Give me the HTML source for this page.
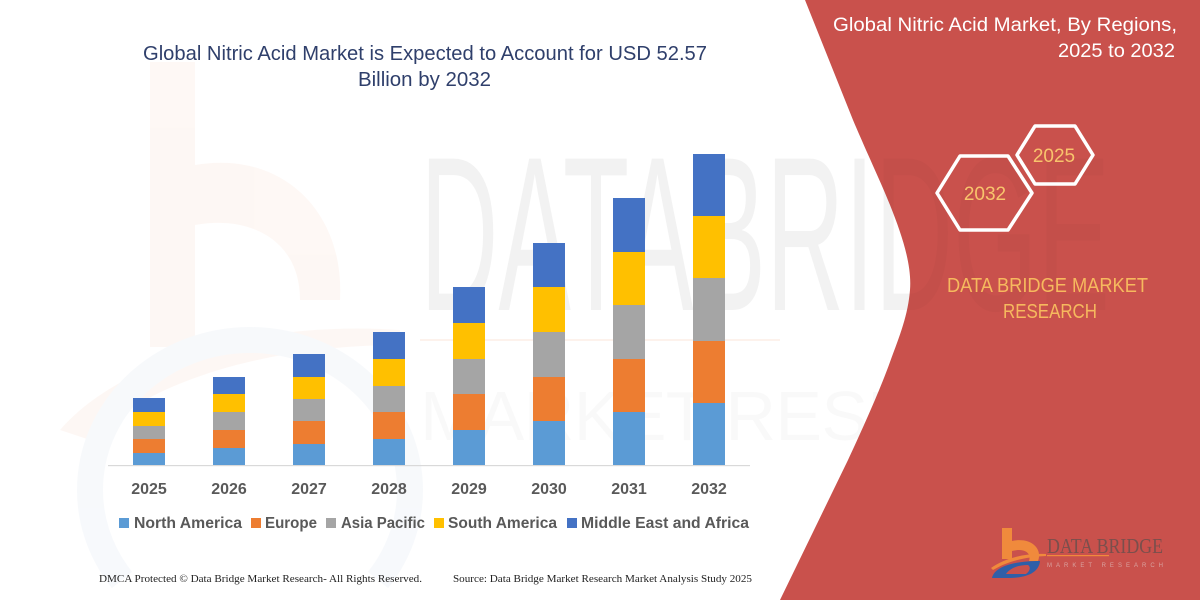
<!DOCTYPE html>
<html><head><meta charset="utf-8"><style>
html,body{margin:0;padding:0;background:#fff;width:1200px;height:600px;overflow:hidden;}
svg{display:block;}
</style></head><body>
<svg width="1200" height="600" viewBox="0 0 1200 600" xmlns="http://www.w3.org/2000/svg">
<rect width="1200" height="600" fill="#ffffff"/>
<!-- faint watermark b on left -->
<g opacity="0.35">
<rect x="150" y="62" width="45" height="285" fill="#fcebe2"/>
<path d="M195,165 C280,150 345,210 340,300 L300,300 C300,240 250,215 195,225 Z" fill="#fcebe2"/>
<path d="M60,430 C120,360 260,320 400,330 L400,345 C270,345 150,380 90,440 Z" fill="#fcebe2"/>
<path d="M122,580 A160,150 0 1 1 378,580" fill="none" stroke="#e9eef5" stroke-width="26"/>
</g>
<!-- faint DATA BRIDGE watermark -->
<text x="420" y="310" font-family="Liberation Sans, sans-serif" font-size="220" textLength="690" lengthAdjust="spacingAndGlyphs" fill="#000" opacity="0.022">DATABRIDGE</text>
<rect x="420" y="339" width="360" height="2" fill="#fbe9df" opacity="0.6"/>
<text x="420" y="440" font-family="Liberation Sans, sans-serif" font-size="70" textLength="690" lengthAdjust="spacing" fill="#000" opacity="0.02">MARKET RESEARCH</text>

<!-- red panel -->
<path d="M805,0 L853,120 C870,160 880,180 890,205 C902,235 912,265 910,290 C908,315 900,335 890,362 C880,390 862,430 848,460 L780,600 L1200,600 L1200,0 Z" fill="#c9514c"/>
<!-- faint watermark over red -->
<text x="420" y="310" font-family="Liberation Sans, sans-serif" font-size="220" textLength="690" lengthAdjust="spacingAndGlyphs" fill="#000" opacity="0.02">DATABRIDGE</text>

<!-- left title -->
<text x="143" y="60" font-family="Liberation Sans, sans-serif" font-size="20" fill="#2f3f6b" textLength="564" lengthAdjust="spacingAndGlyphs">Global Nitric Acid Market is Expected to Account for USD 52.57</text>
<text x="358" y="86" font-family="Liberation Sans, sans-serif" font-size="20" fill="#2f3f6b" textLength="133" lengthAdjust="spacingAndGlyphs">Billion by 2032</text>

<!-- right title -->
<text x="833" y="31" font-family="Liberation Sans, sans-serif" font-size="19" fill="#ffffff" textLength="344" lengthAdjust="spacingAndGlyphs">Global Nitric Acid Market, By Regions,</text>
<text x="1058" y="57" font-family="Liberation Sans, sans-serif" font-size="19" fill="#ffffff" textLength="117" lengthAdjust="spacingAndGlyphs">2025 to 2032</text>

<!-- hexagons -->
<polygon points="1017,155 1035,126 1075,126 1093,155 1075,184 1035,184" fill="none" stroke="#ffffff" stroke-width="3.5" stroke-linejoin="round"/>
<polygon points="937,193 960,156 1008,156 1032,193 1008,230 960,230" fill="none" stroke="#ffffff" stroke-width="3.5" stroke-linejoin="round"/>
<text x="1054" y="162" text-anchor="middle" font-family="Liberation Sans, sans-serif" font-size="19" fill="#f8c46c">2025</text>
<text x="985" y="200" text-anchor="middle" font-family="Liberation Sans, sans-serif" font-size="19" fill="#f8c46c">2032</text>

<text x="947" y="292" font-family="Liberation Sans, sans-serif" font-size="20" fill="#f6b95e" textLength="201" lengthAdjust="spacingAndGlyphs">DATA BRIDGE MARKET</text>
<text x="1003" y="318" font-family="Liberation Sans, sans-serif" font-size="20" fill="#f6b95e" textLength="94" lengthAdjust="spacingAndGlyphs">RESEARCH</text>

<!-- logo -->
<path d="M1002,528 L1012,528 L1012,541 C1030,537 1043,548 1038,561 L1029,561 C1032,552 1023,548 1012,551 L1012,559 L1002,559 Z" fill="#f08a3c"/>
<path d="M991,568 C1005,558 1025,553 1046,554 L1046,556 C1025,557 1008,561 993,570 Z" fill="#f08a3c"/>
<path d="M992,578 C994,568 1010,561 1040,561 C1039,572 1028,578 1008,578 Z M1006,574 L1026,574 C1030,571 1031,567 1028,565 C1018,565 1010,568 1006,574 Z" fill="#2f5fa8" fill-rule="evenodd"/>
<text x="1047" y="553" font-family="Liberation Serif, serif" font-size="21" fill="#7a4f4c" textLength="116" lengthAdjust="spacingAndGlyphs">DATA BRIDGE</text>
<rect x="1047" y="555" width="62" height="1.2" fill="#f08a3c"/>
<text x="1047" y="567" font-family="Liberation Sans, sans-serif" font-size="6" fill="#d9a29f" textLength="116" lengthAdjust="spacing">MARKET RESEARCH</text>

<!-- axis -->
<rect x="108" y="465" width="642" height="1.2" fill="#d9d9d9"/>

<!-- bars -->
<g>
<rect x="133" y="453" width="32" height="12" fill="#5b9bd5"/>
<rect x="133" y="439" width="32" height="14" fill="#ed7d31"/>
<rect x="133" y="426" width="32" height="13" fill="#a5a5a5"/>
<rect x="133" y="412" width="32" height="14" fill="#ffc000"/>
<rect x="133" y="398" width="32" height="14" fill="#4472c4"/>
<rect x="213" y="448" width="32" height="17" fill="#5b9bd5"/>
<rect x="213" y="430" width="32" height="18" fill="#ed7d31"/>
<rect x="213" y="412" width="32" height="18" fill="#a5a5a5"/>
<rect x="213" y="394" width="32" height="18" fill="#ffc000"/>
<rect x="213" y="377" width="32" height="17" fill="#4472c4"/>
<rect x="293" y="444" width="32" height="21" fill="#5b9bd5"/>
<rect x="293" y="421" width="32" height="23" fill="#ed7d31"/>
<rect x="293" y="399" width="32" height="22" fill="#a5a5a5"/>
<rect x="293" y="377" width="32" height="22" fill="#ffc000"/>
<rect x="293" y="354" width="32" height="23" fill="#4472c4"/>
<rect x="373" y="439" width="32" height="26" fill="#5b9bd5"/>
<rect x="373" y="412" width="32" height="27" fill="#ed7d31"/>
<rect x="373" y="386" width="32" height="26" fill="#a5a5a5"/>
<rect x="373" y="359" width="32" height="27" fill="#ffc000"/>
<rect x="373" y="332" width="32" height="27" fill="#4472c4"/>
<rect x="453" y="430" width="32" height="35" fill="#5b9bd5"/>
<rect x="453" y="394" width="32" height="36" fill="#ed7d31"/>
<rect x="453" y="359" width="32" height="35" fill="#a5a5a5"/>
<rect x="453" y="323" width="32" height="36" fill="#ffc000"/>
<rect x="453" y="287" width="32" height="36" fill="#4472c4"/>
<rect x="533" y="421" width="32" height="44" fill="#5b9bd5"/>
<rect x="533" y="377" width="32" height="44" fill="#ed7d31"/>
<rect x="533" y="332" width="32" height="45" fill="#a5a5a5"/>
<rect x="533" y="287" width="32" height="45" fill="#ffc000"/>
<rect x="533" y="243" width="32" height="44" fill="#4472c4"/>
<rect x="613" y="412" width="32" height="53" fill="#5b9bd5"/>
<rect x="613" y="359" width="32" height="53" fill="#ed7d31"/>
<rect x="613" y="305" width="32" height="54" fill="#a5a5a5"/>
<rect x="613" y="252" width="32" height="53" fill="#ffc000"/>
<rect x="613" y="198" width="32" height="54" fill="#4472c4"/>
<rect x="693" y="403" width="32" height="62" fill="#5b9bd5"/>
<rect x="693" y="341" width="32" height="62" fill="#ed7d31"/>
<rect x="693" y="278" width="32" height="63" fill="#a5a5a5"/>
<rect x="693" y="216" width="32" height="62" fill="#ffc000"/>
<rect x="693" y="154" width="32" height="62" fill="#4472c4"/>
</g>

<!-- year labels -->
<g font-family="Liberation Sans, sans-serif" font-size="16" font-weight="bold" fill="#595959" text-anchor="middle">
<text x="149" y="494">2025</text>
<text x="229" y="494">2026</text>
<text x="309" y="494">2027</text>
<text x="389" y="494">2028</text>
<text x="469" y="494">2029</text>
<text x="549" y="494">2030</text>
<text x="629" y="494">2031</text>
<text x="709" y="494">2032</text>
</g>

<!-- legend -->
<g font-family="Liberation Sans, sans-serif" font-size="16" font-weight="bold" fill="#595959">
<rect x="119" y="518" width="10" height="10" fill="#5b9bd5"/>
<text x="134" y="528" textLength="108" lengthAdjust="spacingAndGlyphs">North America</text>
<rect x="251" y="518" width="10" height="10" fill="#ed7d31"/>
<text x="265" y="528" textLength="52" lengthAdjust="spacingAndGlyphs">Europe</text>
<rect x="326" y="518" width="10" height="10" fill="#a5a5a5"/>
<text x="341" y="528" textLength="84" lengthAdjust="spacingAndGlyphs">Asia Pacific</text>
<rect x="434" y="518" width="10" height="10" fill="#ffc000"/>
<text x="448" y="528" textLength="109" lengthAdjust="spacingAndGlyphs">South America</text>
<rect x="567" y="518" width="10" height="10" fill="#4472c4"/>
<text x="581" y="528" textLength="168" lengthAdjust="spacingAndGlyphs">Middle East and Africa</text>
</g>

<!-- footer -->
<g font-family="Liberation Serif, serif" font-size="11" fill="#222">
<text x="99" y="582" textLength="323" lengthAdjust="spacingAndGlyphs">DMCA Protected © Data Bridge Market Research-  All Rights Reserved.</text>
<text x="453" y="582" textLength="299" lengthAdjust="spacingAndGlyphs">Source: Data Bridge Market Research  Market Analysis Study 2025</text>
</g>
</svg>
</body></html>
